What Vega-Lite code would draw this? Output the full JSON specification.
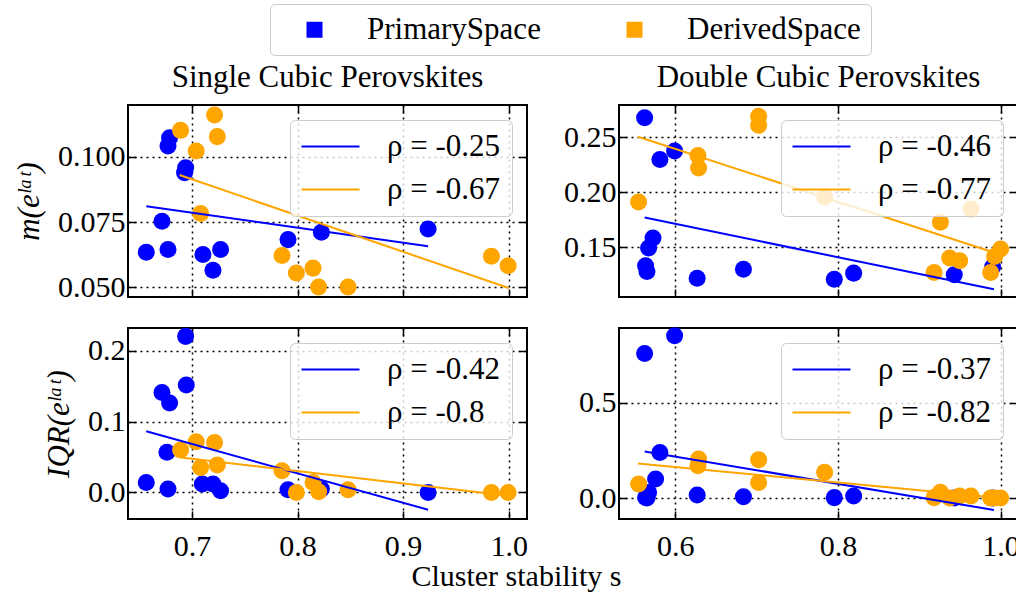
{
  "$schema": "https://vega.github.io/schema/vega-lite/v6.json",
  "background": "white",
  "padding": {"left": 12, "top": 3, "right": 0, "bottom": 0},
  "config": {
    "font": "Liberation Serif",
    "view": {"stroke": "black", "strokeWidth": 2},
    "axis": {"domain": false, "labelFontSize": 30, "labelFont": "Liberation Serif", "labelColor": "black", "tickColor": "black", "tickWidth": 1.5, "tickSize": -8, "gridColor": "black", "gridDash": [2, 4], "gridWidth": 1.5, "gridOpacity": 1, "titleFontSize": 31, "titleFont": "Liberation Serif", "titleFontWeight": "normal", "titleColor": "black", "labelPadding": 11},
    "axisBottom": {"labelPadding": 20},
    "title": {"fontSize": 31, "fontWeight": "normal", "font": "Liberation Serif", "color": "black"},
    "legend": {"labelFont": "Liberation Serif", "labelFontSize": 31, "labelColor": "black", "labelLimit": 400}
  },
  "datasets": {
    "tl_pts": [
      {"s": 0.6788, "v": 0.1073, "space": "PrimarySpace"},
      {"s": 0.6773, "v": 0.1041, "space": "PrimarySpace"},
      {"s": 0.694, "v": 0.0958, "space": "PrimarySpace"},
      {"s": 0.693, "v": 0.0939, "space": "PrimarySpace"},
      {"s": 0.6716, "v": 0.0753, "space": "PrimarySpace"},
      {"s": 0.6567, "v": 0.0635, "space": "PrimarySpace"},
      {"s": 0.6773, "v": 0.0645, "space": "PrimarySpace"},
      {"s": 0.7104, "v": 0.0626, "space": "PrimarySpace"},
      {"s": 0.7271, "v": 0.0645, "space": "PrimarySpace"},
      {"s": 0.7199, "v": 0.0566, "space": "PrimarySpace"},
      {"s": 0.791, "v": 0.0683, "space": "PrimarySpace"},
      {"s": 0.8226, "v": 0.0711, "space": "PrimarySpace"},
      {"s": 0.9237, "v": 0.0724, "space": "PrimarySpace"},
      {"s": 0.6892, "v": 0.1101, "space": "DerivedSpace"},
      {"s": 0.7214, "v": 0.116, "space": "DerivedSpace"},
      {"s": 0.724, "v": 0.1077, "space": "DerivedSpace"},
      {"s": 0.704, "v": 0.1022, "space": "DerivedSpace"},
      {"s": 0.7082, "v": 0.0783, "space": "DerivedSpace"},
      {"s": 0.7853, "v": 0.0622, "space": "DerivedSpace"},
      {"s": 0.7989, "v": 0.0555, "space": "DerivedSpace"},
      {"s": 0.8147, "v": 0.0574, "space": "DerivedSpace"},
      {"s": 0.82, "v": 0.0502, "space": "DerivedSpace"},
      {"s": 0.8479, "v": 0.0502, "space": "DerivedSpace"},
      {"s": 0.9837, "v": 0.0619, "space": "DerivedSpace"},
      {"s": 0.9995, "v": 0.0583, "space": "DerivedSpace"}
    ],
    "tl_lines": [
      {"s": 0.6567, "v": 0.0811, "label": "ρ = -0.25"},
      {"s": 0.9237, "v": 0.0658, "label": "ρ = -0.25"},
      {"s": 0.6883, "v": 0.093, "label": "ρ = -0.67"},
      {"s": 1.0, "v": 0.0498, "label": "ρ = -0.67"}
    ],
    "tr_pts": [
      {"s": 0.5623, "v": 0.2676, "space": "PrimarySpace"},
      {"s": 0.5811, "v": 0.2297, "space": "PrimarySpace"},
      {"s": 0.5992, "v": 0.2374, "space": "PrimarySpace"},
      {"s": 0.5726, "v": 0.1582, "space": "PrimarySpace"},
      {"s": 0.5672, "v": 0.1491, "space": "PrimarySpace"},
      {"s": 0.5635, "v": 0.133, "space": "PrimarySpace"},
      {"s": 0.5652, "v": 0.1278, "space": "PrimarySpace"},
      {"s": 0.6269, "v": 0.1217, "space": "PrimarySpace"},
      {"s": 0.6838, "v": 0.1299, "space": "PrimarySpace"},
      {"s": 0.7955, "v": 0.1208, "space": "PrimarySpace"},
      {"s": 0.8193, "v": 0.1263, "space": "PrimarySpace"},
      {"s": 0.943, "v": 0.1248, "space": "PrimarySpace"},
      {"s": 0.9902, "v": 0.1318, "space": "PrimarySpace"},
      {"s": 0.5549, "v": 0.1909, "space": "DerivedSpace"},
      {"s": 0.7025, "v": 0.2689, "space": "DerivedSpace"},
      {"s": 0.7025, "v": 0.2607, "space": "DerivedSpace"},
      {"s": 0.6279, "v": 0.2333, "space": "DerivedSpace"},
      {"s": 0.6287, "v": 0.222, "space": "DerivedSpace"},
      {"s": 0.7836, "v": 0.1956, "space": "DerivedSpace"},
      {"s": 0.926, "v": 0.1725, "space": "DerivedSpace"},
      {"s": 0.9636, "v": 0.1847, "space": "DerivedSpace"},
      {"s": 0.9374, "v": 0.14, "space": "DerivedSpace"},
      {"s": 0.9497, "v": 0.1376, "space": "DerivedSpace"},
      {"s": 0.9182, "v": 0.1269, "space": "DerivedSpace"},
      {"s": 0.9878, "v": 0.1269, "space": "DerivedSpace"},
      {"s": 0.9927, "v": 0.1415, "space": "DerivedSpace"},
      {"s": 1.0, "v": 0.1482, "space": "DerivedSpace"}
    ],
    "tr_lines": [
      {"s": 0.5623, "v": 0.1769, "label": "ρ = -0.46"},
      {"s": 0.9918, "v": 0.1116, "label": "ρ = -0.46"},
      {"s": 0.5541, "v": 0.2503, "label": "ρ = -0.77"},
      {"s": 0.9927, "v": 0.1448, "label": "ρ = -0.77"}
    ],
    "bl_pts": [
      {"s": 0.694, "v": 0.2202, "space": "PrimarySpace"},
      {"s": 0.6946, "v": 0.1516, "space": "PrimarySpace"},
      {"s": 0.6716, "v": 0.1411, "space": "PrimarySpace"},
      {"s": 0.6788, "v": 0.1261, "space": "PrimarySpace"},
      {"s": 0.6763, "v": 0.0566, "space": "PrimarySpace"},
      {"s": 0.6567, "v": 0.0141, "space": "PrimarySpace"},
      {"s": 0.6773, "v": 0.0047, "space": "PrimarySpace"},
      {"s": 0.7098, "v": 0.0118, "space": "PrimarySpace"},
      {"s": 0.7199, "v": 0.0118, "space": "PrimarySpace"},
      {"s": 0.7271, "v": 0.0024, "space": "PrimarySpace"},
      {"s": 0.791, "v": 0.0038, "space": "PrimarySpace"},
      {"s": 0.8226, "v": 0.0047, "space": "PrimarySpace"},
      {"s": 0.9237, "v": 0.0, "space": "PrimarySpace"},
      {"s": 0.6892, "v": 0.0598, "space": "DerivedSpace"},
      {"s": 0.704, "v": 0.0715, "space": "DerivedSpace"},
      {"s": 0.7214, "v": 0.0705, "space": "DerivedSpace"},
      {"s": 0.7082, "v": 0.0353, "space": "DerivedSpace"},
      {"s": 0.724, "v": 0.0387, "space": "DerivedSpace"},
      {"s": 0.7853, "v": 0.0307, "space": "DerivedSpace"},
      {"s": 0.7989, "v": 0.0, "space": "DerivedSpace"},
      {"s": 0.8147, "v": 0.0141, "space": "DerivedSpace"},
      {"s": 0.82, "v": 0.001, "space": "DerivedSpace"},
      {"s": 0.8479, "v": 0.0038, "space": "DerivedSpace"},
      {"s": 0.9837, "v": 0.0, "space": "DerivedSpace"},
      {"s": 0.9995, "v": 0.0, "space": "DerivedSpace"}
    ],
    "bl_lines": [
      {"s": 0.6567, "v": 0.0864, "label": "ρ = -0.42"},
      {"s": 0.9237, "v": -0.0244, "label": "ρ = -0.42"},
      {"s": 0.6899, "v": 0.0494, "label": "ρ = -0.8"},
      {"s": 1.0, "v": -0.0047, "label": "ρ = -0.8"}
    ],
    "br_pts": [
      {"s": 0.5623, "v": 0.761, "space": "PrimarySpace"},
      {"s": 0.5992, "v": 0.854, "space": "PrimarySpace"},
      {"s": 0.5811, "v": 0.24, "space": "PrimarySpace"},
      {"s": 0.5758, "v": 0.1, "space": "PrimarySpace"},
      {"s": 0.5672, "v": 0.0295, "space": "PrimarySpace"},
      {"s": 0.5635, "v": 0.003, "space": "PrimarySpace"},
      {"s": 0.5652, "v": 0.0, "space": "PrimarySpace"},
      {"s": 0.6269, "v": 0.016, "space": "PrimarySpace"},
      {"s": 0.6838, "v": 0.007, "space": "PrimarySpace"},
      {"s": 0.7955, "v": 0.002, "space": "PrimarySpace"},
      {"s": 0.8193, "v": 0.011, "space": "PrimarySpace"},
      {"s": 0.943, "v": 0.0, "space": "PrimarySpace"},
      {"s": 0.9902, "v": 0.0, "space": "PrimarySpace"},
      {"s": 0.5549, "v": 0.0737, "space": "DerivedSpace"},
      {"s": 0.6279, "v": 0.17, "space": "DerivedSpace"},
      {"s": 0.6287, "v": 0.205, "space": "DerivedSpace"},
      {"s": 0.7025, "v": 0.2015, "space": "DerivedSpace"},
      {"s": 0.7025, "v": 0.082, "space": "DerivedSpace"},
      {"s": 0.7836, "v": 0.135, "space": "DerivedSpace"},
      {"s": 0.9182, "v": 0.002, "space": "DerivedSpace"},
      {"s": 0.926, "v": 0.03, "space": "DerivedSpace"},
      {"s": 0.9374, "v": 0.0, "space": "DerivedSpace"},
      {"s": 0.9497, "v": 0.01, "space": "DerivedSpace"},
      {"s": 0.9636, "v": 0.01, "space": "DerivedSpace"},
      {"s": 0.9878, "v": 0.0, "space": "DerivedSpace"},
      {"s": 0.9927, "v": 0.0, "space": "DerivedSpace"},
      {"s": 1.0, "v": 0.0, "space": "DerivedSpace"}
    ],
    "br_lines": [
      {"s": 0.5623, "v": 0.245, "label": "ρ = -0.37"},
      {"s": 0.9918, "v": -0.063, "label": "ρ = -0.37"},
      {"s": 0.5541, "v": 0.182, "label": "ρ = -0.82"},
      {"s": 1.0, "v": 0.0, "label": "ρ = -0.82"}
    ]
  },
  "title": {"text": "Cluster stability s", "orient": "bottom", "anchor": "middle", "offset": 0, "fontSize": 30, "fontWeight": "normal"},
  "columns": 2,
  "spacing": {"row": 22, "column": 33},
  "resolve": {"scale": {"stroke": "independent", "fill": "shared"}, "legend": {"stroke": "independent", "fill": "shared"}},
  "concat": [
    {
      "width": 399, "height": 192,
      "title": {"text": "Single Cubic Perovskites", "offset": 10},
      "layer": [
        {
          "data": {"name": "tl_pts"},
          "mark": {"type": "circle", "size": 290, "opacity": 1},
          "encoding": {
            "x": {"field": "s", "type": "quantitative", "scale": {"domain": [0.6394, 1.0174], "nice": false, "zero": false}, "axis": {"orient": "bottom", "values": [0.7, 0.8, 0.9, 1.0], "labels": false, "grid": true, "title": null}},
            "y": {"field": "v", "type": "quantitative", "scale": {"domain": [0.04635, 0.1198], "nice": false, "zero": false}, "axis": {"orient": "left", "values": [0.05, 0.075, 0.1], "format": ".3f", "grid": true, "title": "m(eˡᵃᵗ)", "titleFontStyle": "italic", "titlePadding": 12}},
            "fill": {"field": "space", "type": "nominal", "scale": {"domain": ["PrimarySpace", "DerivedSpace"], "range": ["#0000ff", "#ffa500"]}, "legend": {"title": null, "orient": "none", "legendX": 142, "legendY": -101, "direction": "horizontal", "symbolType": "square", "symbolSize": 256, "symbolOffset": 19, "labelOffset": 37, "columnPadding": 59, "padding": 10, "strokeColor": "#cccccc", "fillColor": "white", "cornerRadius": 5, "symbolStrokeWidth": 0, "symbolOpacity": 1}}
          }
        },
        {
          "data": {"name": "tl_lines"},
          "mark": {"type": "line", "strokeWidth": 2},
          "encoding": {
            "x": {"field": "s", "type": "quantitative", "axis": {"orient": "top", "values": [0.7, 0.8, 0.9, 1.0], "labels": false, "grid": false, "title": null}},
            "y": {"field": "v", "type": "quantitative", "axis": {"orient": "right", "values": [0.05, 0.075, 0.1], "labels": false, "grid": false, "title": null}},
            "stroke": {"field": "label", "type": "nominal", "scale": {"domain": ["ρ = -0.25", "ρ = -0.67"], "range": ["#0000ff", "#ffa500"]}, "legend": {"title": null, "orient": "top-right", "offset": 15, "symbolType": "M-2.9,0H2.9", "symbolSize": 400, "symbolStrokeWidth": 2, "symbolOffset": 14, "labelOffset": 41, "padding": 11, "rowPadding": 11, "fillColor": "rgba(255,255,255,0.8)", "strokeColor": "#cccccc", "cornerRadius": 5}}
          }
        }
      ],
      "resolve": {"axis": {"x": "independent", "y": "independent"}}
    },
    {
      "width": 399, "height": 192,
      "title": {"text": "Double Cubic Perovskites", "offset": 10},
      "layer": [
        {
          "data": {"name": "tr_pts"},
          "mark": {"type": "circle", "size": 290, "opacity": 1},
          "encoding": {
            "x": {"field": "s", "type": "quantitative", "scale": {"domain": [0.5308, 1.0214], "nice": false, "zero": false}, "axis": {"orient": "bottom", "values": [0.6, 0.8, 1.0], "labels": false, "grid": true, "title": null}},
            "y": {"field": "v", "type": "quantitative", "scale": {"domain": [0.1046, 0.2792], "nice": false, "zero": false}, "axis": {"orient": "left", "values": [0.15, 0.2, 0.25], "format": ".2f", "grid": true, "title": null}},
            "fill": {"field": "space", "type": "nominal", "scale": {"domain": ["PrimarySpace", "DerivedSpace"], "range": ["#0000ff", "#ffa500"]}, "legend": {"title": null, "orient": "none", "legendX": 142, "legendY": -101, "direction": "horizontal", "symbolType": "square", "symbolSize": 256, "symbolOffset": 19, "labelOffset": 37, "columnPadding": 59, "padding": 10, "strokeColor": "#cccccc", "fillColor": "white", "cornerRadius": 5, "symbolStrokeWidth": 0, "symbolOpacity": 1}}
          }
        },
        {
          "data": {"name": "tr_lines"},
          "mark": {"type": "line", "strokeWidth": 2},
          "encoding": {
            "x": {"field": "s", "type": "quantitative", "axis": {"orient": "top", "values": [0.6, 0.8, 1.0], "labels": false, "grid": false, "title": null}},
            "y": {"field": "v", "type": "quantitative", "axis": {"orient": "right", "values": [0.15, 0.2, 0.25], "labels": false, "grid": false, "title": null}},
            "stroke": {"field": "label", "type": "nominal", "scale": {"domain": ["ρ = -0.46", "ρ = -0.77"], "range": ["#0000ff", "#ffa500"]}, "legend": {"title": null, "orient": "top-right", "offset": 15, "symbolType": "M-2.9,0H2.9", "symbolSize": 400, "symbolStrokeWidth": 2, "symbolOffset": 14, "labelOffset": 41, "padding": 11, "rowPadding": 11, "fillColor": "rgba(255,255,255,0.8)", "strokeColor": "#cccccc", "cornerRadius": 5}}
          }
        }
      ],
      "resolve": {"axis": {"x": "independent", "y": "independent"}}
    },
    {
      "width": 399, "height": 191,
      "layer": [
        {
          "data": {"name": "bl_pts"},
          "mark": {"type": "circle", "size": 290, "opacity": 1},
          "encoding": {
            "x": {"field": "s", "type": "quantitative", "scale": {"domain": [0.6394, 1.0174], "nice": false, "zero": false}, "axis": {"orient": "bottom", "values": [0.7, 0.8, 0.9, 1.0], "format": ".1f", "grid": true, "title": null}},
            "y": {"field": "v", "type": "quantitative", "scale": {"domain": [-0.0375, 0.232], "nice": false, "zero": false}, "axis": {"orient": "left", "values": [0, 0.1, 0.2], "format": ".1f", "grid": true, "title": "IQR(eˡᵃᵗ)", "titleFontStyle": "italic", "titlePadding": 12}},
            "fill": {"field": "space", "type": "nominal", "scale": {"domain": ["PrimarySpace", "DerivedSpace"], "range": ["#0000ff", "#ffa500"]}, "legend": {"title": null, "orient": "none", "legendX": 142, "legendY": -101, "direction": "horizontal", "symbolType": "square", "symbolSize": 256, "symbolOffset": 19, "labelOffset": 37, "columnPadding": 59, "padding": 10, "strokeColor": "#cccccc", "fillColor": "white", "cornerRadius": 5, "symbolStrokeWidth": 0, "symbolOpacity": 1}}
          }
        },
        {
          "data": {"name": "bl_lines"},
          "mark": {"type": "line", "strokeWidth": 2},
          "encoding": {
            "x": {"field": "s", "type": "quantitative", "axis": {"orient": "top", "values": [0.7, 0.8, 0.9, 1.0], "labels": false, "grid": false, "title": null}},
            "y": {"field": "v", "type": "quantitative", "axis": {"orient": "right", "values": [0, 0.1, 0.2], "labels": false, "grid": false, "title": null}},
            "stroke": {"field": "label", "type": "nominal", "scale": {"domain": ["ρ = -0.42", "ρ = -0.8"], "range": ["#0000ff", "#ffa500"]}, "legend": {"title": null, "orient": "top-right", "offset": 15, "symbolType": "M-2.9,0H2.9", "symbolSize": 400, "symbolStrokeWidth": 2, "symbolOffset": 14, "labelOffset": 41, "padding": 11, "rowPadding": 11, "fillColor": "rgba(255,255,255,0.8)", "strokeColor": "#cccccc", "cornerRadius": 5}}
          }
        }
      ],
      "resolve": {"axis": {"x": "independent", "y": "independent"}}
    },
    {
      "width": 399, "height": 191,
      "layer": [
        {
          "data": {"name": "br_pts"},
          "mark": {"type": "circle", "size": 290, "opacity": 1},
          "encoding": {
            "x": {"field": "s", "type": "quantitative", "scale": {"domain": [0.5308, 1.0214], "nice": false, "zero": false}, "axis": {"orient": "bottom", "values": [0.6, 0.8, 1.0], "format": ".1f", "grid": true, "title": null}},
            "y": {"field": "v", "type": "quantitative", "scale": {"domain": [-0.1105, 0.8947], "nice": false, "zero": false}, "axis": {"orient": "left", "values": [0, 0.5], "format": ".1f", "grid": true, "title": null}},
            "fill": {"field": "space", "type": "nominal", "scale": {"domain": ["PrimarySpace", "DerivedSpace"], "range": ["#0000ff", "#ffa500"]}, "legend": {"title": null, "orient": "none", "legendX": 142, "legendY": -101, "direction": "horizontal", "symbolType": "square", "symbolSize": 256, "symbolOffset": 19, "labelOffset": 37, "columnPadding": 59, "padding": 10, "strokeColor": "#cccccc", "fillColor": "white", "cornerRadius": 5, "symbolStrokeWidth": 0, "symbolOpacity": 1}}
          }
        },
        {
          "data": {"name": "br_lines"},
          "mark": {"type": "line", "strokeWidth": 2},
          "encoding": {
            "x": {"field": "s", "type": "quantitative", "axis": {"orient": "top", "values": [0.6, 0.8, 1.0], "labels": false, "grid": false, "title": null}},
            "y": {"field": "v", "type": "quantitative", "axis": {"orient": "right", "values": [0, 0.5], "labels": false, "grid": false, "title": null}},
            "stroke": {"field": "label", "type": "nominal", "scale": {"domain": ["ρ = -0.37", "ρ = -0.82"], "range": ["#0000ff", "#ffa500"]}, "legend": {"title": null, "orient": "top-right", "offset": 15, "symbolType": "M-2.9,0H2.9", "symbolSize": 400, "symbolStrokeWidth": 2, "symbolOffset": 14, "labelOffset": 41, "padding": 11, "rowPadding": 11, "fillColor": "rgba(255,255,255,0.8)", "strokeColor": "#cccccc", "cornerRadius": 5}}
          }
        }
      ],
      "resolve": {"axis": {"x": "independent", "y": "independent"}}
    }
  ]
}
